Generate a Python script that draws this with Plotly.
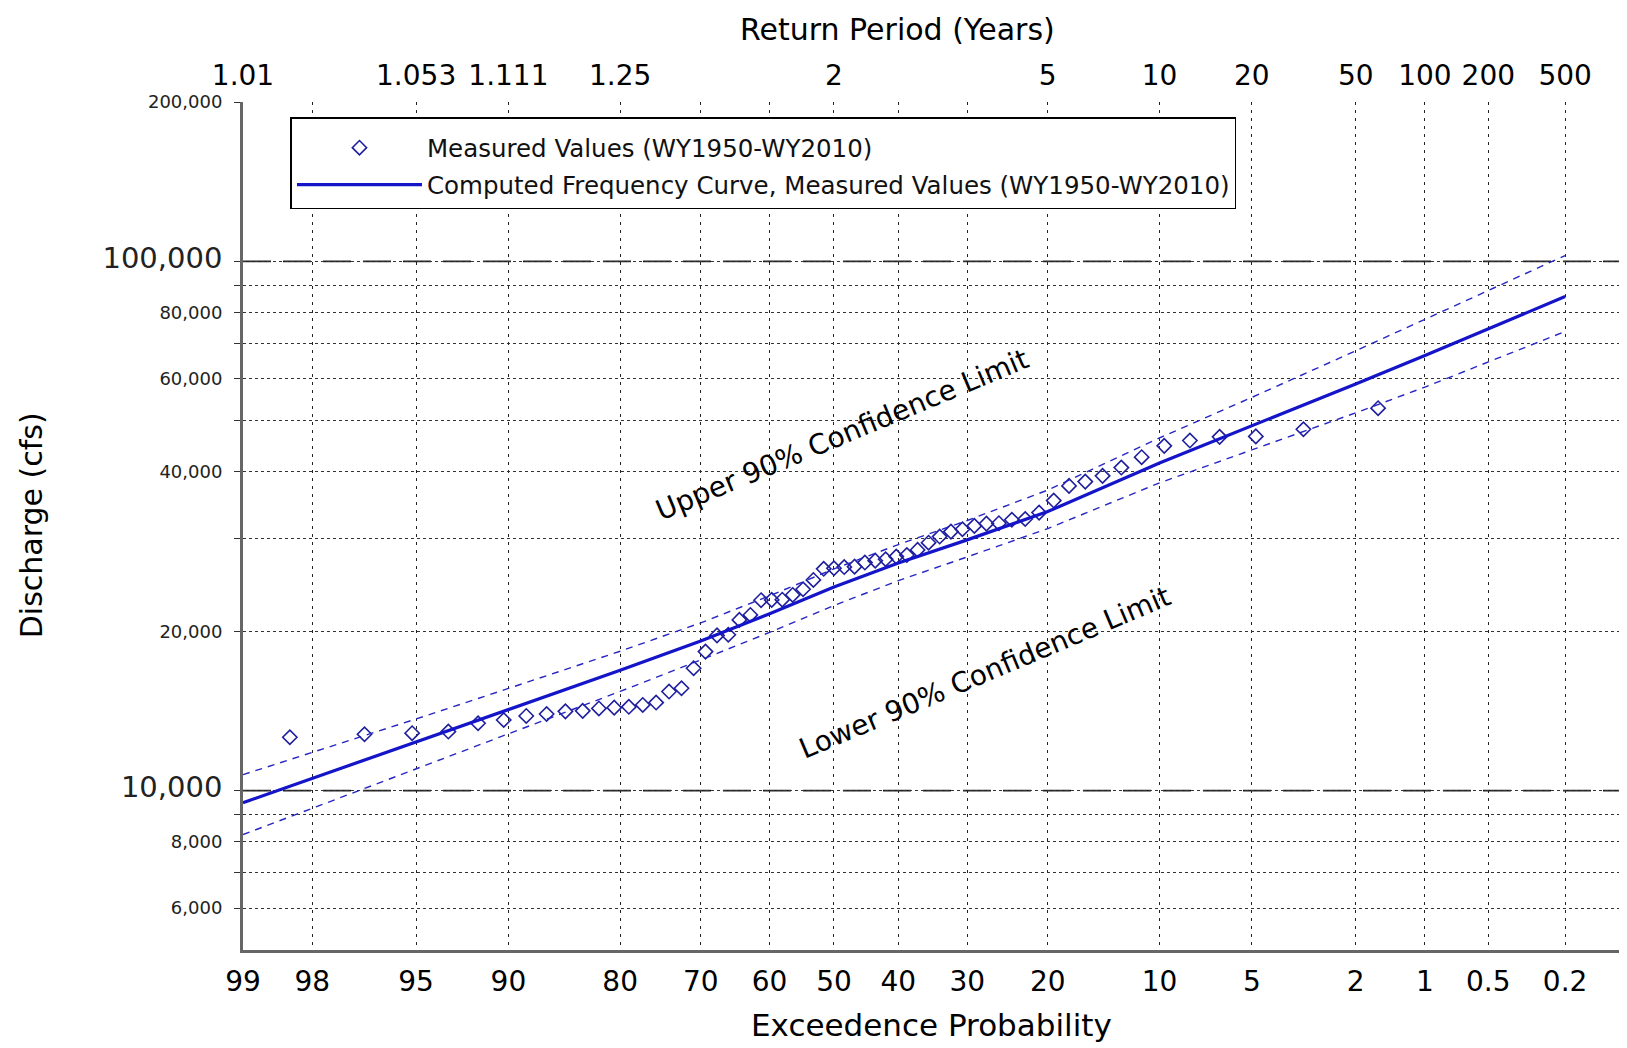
from statistics import NormalDist
import math
import plotly.graph_objects as go

# ---------------- data ----------------
# Measured annual peaks, ranked, with their plotting-position exceedance (%)
measured_exceedance = [
    1.61, 3.23, 4.84, 6.45, 8.06, 9.68, 11.29, 12.90, 14.52, 16.13,
    17.74, 19.35, 20.97, 22.58, 24.19, 25.81, 27.42, 29.03, 30.65, 32.26,
    33.87, 35.48, 37.10, 38.71, 40.32, 41.94, 43.55, 45.16, 46.77, 48.39,
    50.00, 51.61, 53.23, 54.84, 56.45, 58.06, 59.68, 61.29, 62.90, 64.52,
    66.13, 67.74, 69.35, 70.97, 72.58, 74.19, 75.81, 77.42, 79.03, 80.65,
    82.26, 83.87, 85.48, 87.10, 88.71, 90.32, 91.94, 93.55, 95.16, 96.77,
    98.39,
]
measured_discharge = [
    52800, 48180, 46700, 46600, 45860, 44810, 42660, 40770, 39330, 38360,
    37650, 35320, 33520, 32600, 32500, 32010, 31950, 31640, 31180, 30860,
    30200, 29410, 28500, 27880, 27680, 27360, 27200, 26970, 26500, 26450,
    26310, 26250, 25010, 24020, 23430, 22950, 22930, 22900, 21480, 21020,
    19700, 19650, 18310, 17030, 15610, 15390, 14670, 14520, 14400, 14350,
    14300, 14150, 14120, 13960, 13840, 13600, 13410, 12930, 12840, 12780,
    12615,
]

curve_exceedance = [99, 95, 90, 80, 70, 60, 50, 40, 30, 20, 10, 5, 2, 1, 0.5, 0.2]
computed_discharge = [9490, 12360, 14230, 16880, 19180, 21590, 24260, 26910,
                      29770, 33670, 41610, 48870, 58670, 66370, 74450, 85800]
upper_90 = [10720, 13660, 15600, 18340, 20750, 23340, 26240, 29170,
            32390, 36970, 46390, 55330, 67750, 77620, 88030, 102560]
lower_90 = [8260, 10990, 12770, 15400, 17660, 19910, 22380, 24930,
            27640, 31270, 38150, 44010, 51730, 57870, 64500, 73690]

prob_ticks = [99, 98, 95, 90, 80, 70, 60, 50, 40, 30, 20, 10, 5, 2, 1, 0.5, 0.2]
prob_labels = ["99", "98", "95", "90", "80", "70", "60", "50", "40", "30",
               "20", "10", "5", "2", "1", "0.5", "0.2"]
prob_edge = 0.1

return_period_exceedance = [99, 95, 90, 80, 50, 20, 10, 5, 2, 1, 0.5, 0.2]
return_period_labels = ["1.01", "1.053", "1.111", "1.25", "2", "5", "10",
                        "20", "50", "100", "200", "500"]

y_tick_vals = [6000, 7000, 8000, 9000, 10000, 20000, 30000, 40000, 50000,
               60000, 70000, 80000, 90000, 100000, 200000]
y_tick_text = ["6,000", "", "8,000", "", "10,000", "20,000", "", "40,000", "",
               "60,000", "", "80,000", "", "100,000", "200,000"]
y_major = [10000, 100000]
y_range = [5000, 200000]

# ---------------- probability-paper transform ----------------
ND = NormalDist()


def pz(p):
    """exceedance probability (%) -> standard normal variate"""
    return ND.inv_cdf(1.0 - p / 100.0)


FONT = "DejaVu Sans"
BLUE_PT = "#1f1f9e"
BLUE_LN = "#1414c8"
BLUE_CL = "#2626c4"

fig = go.Figure()

fig.add_trace(go.Scatter(
    x=[pz(p) for p in measured_exceedance], y=measured_discharge,
    mode="markers", name="Measured Values (WY1950-WY2010)",
    legendgroup="a",
    marker=dict(symbol="diamond-open", size=11, color=BLUE_PT,
                line=dict(width=1.6, color=BLUE_PT)),
))
fig.add_trace(go.Scatter(
    x=[pz(p) for p in curve_exceedance], y=computed_discharge,
    mode="lines", name="Computed Frequency Curve, Measured Values (WY1950-WY2010)",
    legendgroup="b",
    line=dict(color=BLUE_LN, width=3.2),
))
fig.add_trace(go.Scatter(
    x=[pz(p) for p in curve_exceedance], y=upper_90, mode="lines",
    showlegend=False, line=dict(color=BLUE_CL, width=1.4, dash="7px,6px"),
))
fig.add_trace(go.Scatter(
    x=[pz(p) for p in curve_exceedance], y=lower_90, mode="lines",
    showlegend=False, line=dict(color=BLUE_CL, width=1.4, dash="7px,6px"),
))
# invisible trace so the top (return period) axis is drawn
fig.add_trace(go.Scatter(
    x=[pz(p) for p in return_period_exceedance],
    y=[None] * len(return_period_exceedance),
    xaxis="x2", mode="markers", showlegend=False, hoverinfo="skip",
    marker=dict(opacity=0),
))

xr = [pz(99), pz(prob_edge)]

ytext = []
for v, t in zip(y_tick_vals, y_tick_text):
    if v in y_major:
        ytext.append(f"<span style='font-size:29px'>{t}</span>")
    else:
        ytext.append(t)

# the page body has an 8px margin, so the figure is 8px smaller than the window
fig.update_layout(
    width=1619, height=1040,
    margin=dict(l=235, r=8, t=94, b=98, autoexpand=False),
    paper_bgcolor="white", plot_bgcolor="white",
    font=dict(family=FONT, color="black"),
    showlegend=True,
    legend=dict(
        x=0.0345, y=0.982, xanchor="left", yanchor="top",
        bgcolor="white", bordercolor="black", borderwidth=1.5,
        font=dict(size=24.5, family=FONT, color="#111"),
        itemwidth=125, traceorder="grouped", tracegroupgap=2,
        title=dict(text=" ", font=dict(size=5)),
    ),
    xaxis=dict(
        range=xr, tickmode="array", automargin=False,
        tickvals=[pz(p) for p in prob_ticks] + [pz(prob_edge)],
        ticktext=prob_labels + [""],
        tickfont=dict(size=28, family=FONT), ticks="",
        ticklabelstandoff=4,
        showgrid=True, gridcolor="#222", gridwidth=1.3, griddash="3px,5px",
        showline=True, linecolor="#666", linewidth=3, mirror=False,
        zeroline=False,
    ),
    xaxis2=dict(
        overlaying="x", side="top", anchor="y", range=xr, tickmode="array",
        automargin=False,
        tickvals=[pz(p) for p in return_period_exceedance],
        ticktext=return_period_labels,
        tickfont=dict(size=28, family=FONT), ticks="", ticklabelstandoff=10,
        showgrid=False, showline=False, zeroline=False,
    ),
    yaxis=dict(
        type="log", range=[math.log10(y_range[0]), math.log10(y_range[1])],
        automargin=False,
        tickmode="array", tickvals=y_tick_vals, ticktext=ytext,
        tickfont=dict(size=18, family=FONT, color="#222"),
        ticks="outside", ticklen=6, tickcolor="#333", ticklabelstandoff=8,
        showgrid=True, gridcolor="#333", gridwidth=1.3, griddash="dot",
        showline=True, linecolor="#666", linewidth=3,
        zeroline=False,
    ),
)

# long-dashed decade lines at 10,000 and 100,000
for v in y_major:
    fig.add_shape(type="line", xref="paper", x0=0, x1=1, yref="y", y0=v, y1=v,
                  line=dict(color="white", width=3), layer="between")
    fig.add_shape(type="line", xref="paper", x0=0, x1=1, yref="y", y0=v, y1=v,
                  line=dict(color="#222", width=1.6, dash="28px,12px"),
                  layer="between")

# axis titles
fig.add_annotation(text="Exceedence Probability", xref="paper", yref="paper",
                   x=0.5, y=-0.0884, xanchor="center", yanchor="middle",
                   showarrow=False, font=dict(size=31, family=FONT))
fig.add_annotation(text="Return Period (Years)", xref="paper", yref="paper",
                   x=0.476, y=1.1085, xanchor="center", yanchor="top",
                   showarrow=False, font=dict(size=30, family=FONT))
fig.add_annotation(text="Discharge (cfs)", xref="paper", yref="paper",
                   x=-0.154, y=0.501, xanchor="center", yanchor="middle",
                   showarrow=False, textangle=-90,
                   font=dict(size=30, family=FONT))

fig.add_annotation(
    x=pz(48.6), y=math.log10(47000), xref="x", yref="y",
    text="Upper 90% Confidence Limit", showarrow=False, textangle=-22.7,
    font=dict(size=28, family=FONT, color="black"),
)
fig.add_annotation(
    x=pz(27.6), y=math.log10(16740), xref="x", yref="y",
    text="Lower 90% Confidence Limit", showarrow=False, textangle=-22.9,
    font=dict(size=28, family=FONT, color="black"),
)

fig.write_html("out.html")
